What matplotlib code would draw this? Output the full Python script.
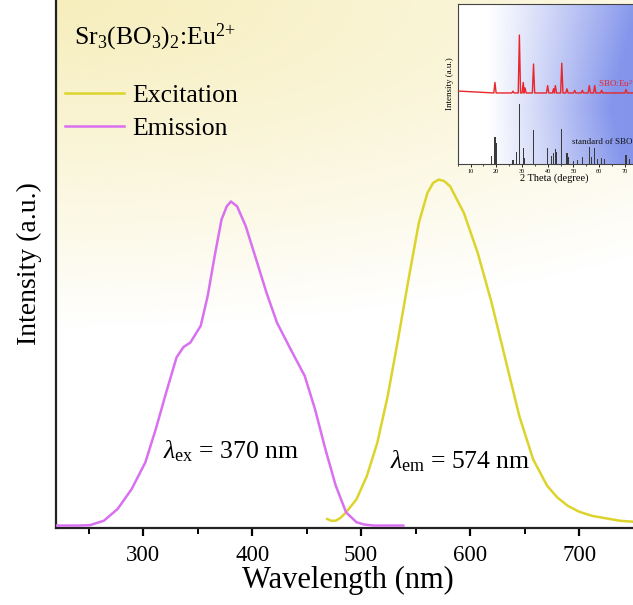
import numpy as np
import matplotlib
matplotlib.use("Agg")
import matplotlib.pyplot as plt
from matplotlib.ticker import MultipleLocator

plt.rcParams['font.family'] = ['Liberation Serif', 'DejaVu Serif']
plt.rcParams['mathtext.fontset'] = 'custom'
plt.rcParams['mathtext.rm'] = 'Liberation Serif'
plt.rcParams['mathtext.it'] = 'Liberation Serif:italic'

# emission band (magenta)
em_wl = [220, 240, 251, 264, 276.6, 289.4, 302, 311.6, 321.1, 330.6, 337, 343.3, 352.8,
         359.2, 365.6, 371.9, 376.7, 380.5, 386.2, 394.1, 403.7, 413.2, 422.8, 435.4,
         448.2, 457.7, 467.2, 476.7, 486.2, 495.8, 503, 511.6, 538.7]
em_int = [0.004, 0.004, 0.005, 0.018, 0.052, 0.109, 0.186, 0.282, 0.387, 0.488, 0.518,
          0.531, 0.579, 0.665, 0.78, 0.885, 0.923, 0.937, 0.923, 0.866, 0.77, 0.674,
          0.588, 0.511, 0.435, 0.339, 0.224, 0.119, 0.042, 0.0135, 0.007, 0.004, 0.004]

# excitation band (yellow)
ex_wl = [468.8, 472.5, 476.7, 481, 486.2, 495.8, 505.3, 514.9, 524.4, 533.9, 543.5, 553,
         560.9, 566, 571.1, 576, 581.6, 594.3, 607, 619.7, 632.4, 645.1, 657.8, 670.6,
         680, 689.6, 700, 711.8, 737.2, 749.4]
ex_int = [0.023, 0.018, 0.018, 0.026, 0.042, 0.08, 0.147, 0.243, 0.377, 0.54, 0.713,
          0.876, 0.962, 0.99, 1.0, 0.996, 0.981, 0.904, 0.789, 0.646, 0.483, 0.32, 0.195,
          0.119, 0.085, 0.061, 0.044, 0.032, 0.018, 0.015]

# XRD inset: measured peaks (red) and standard card (black sticks)
xrd_base = 0.444
xrd_peaks = [19.5, 26.5, 29.0, 30.5, 31.2, 34.5, 40.0, 42.3, 43.0, 45.5, 47.5,
             50.5, 53.5, 56.2, 58.3, 61.0, 70.5]
xrd_heights = [0.51, 0.455, 0.806, 0.51, 0.475, 0.625, 0.49, 0.47, 0.49, 0.63, 0.47,
               0.46, 0.46, 0.49, 0.49, 0.46, 0.465]
std_pos = [18, 19.5, 20, 26.5, 28, 29, 30.5, 31, 34.5, 40, 41.5, 42.3, 43, 43.5, 45.5,
           47.5, 48, 50, 51.5, 53.5, 56.2, 57, 58.3, 59.5, 61, 62, 70.5, 72]
std_int = [0.05, 0.17, 0.13, 0.025, 0.075, 0.375, 0.10, 0.04, 0.21, 0.10, 0.05, 0.07,
           0.095, 0.075, 0.22, 0.07, 0.045, 0.02, 0.025, 0.045, 0.105, 0.045, 0.10,
           0.03, 0.04, 0.03, 0.055, 0.03]

W, H = 633, 605
fig = plt.figure(figsize=(W / 100, H / 100), dpi=100, facecolor='white')

# main axes (right and top edges run off the picture)
x0, xb = 56, 528
ax = fig.add_axes([x0 / W, (H - xb) / H, (639 - x0) / W, xb / H])
ax.set_xlim(220, 755)
ax.set_ylim(-0.003, 1.517)

# yellowish background wash from the top left
ny, nx = 200, 200
yy, xx = np.mgrid[0:1:ny * 1j, 0:1:nx * 1j]
d = np.sqrt(((1 - yy) / 0.62) ** 2 + (xx / 1.6) ** 2)
alpha = np.clip(1 - d, 0, 1) ** 0.9
bg = np.zeros((ny, nx, 4))
bg[..., 0] = 247 / 255
bg[..., 1] = 238 / 255
bg[..., 2] = 188 / 255
bg[..., 3] = alpha
ax.imshow(bg, extent=[0, 1, 0, 1], transform=ax.transAxes, origin='lower',
          aspect='auto', zorder=0, interpolation='bilinear')

ax.plot(ex_wl, ex_int, color='#dcd42c', lw=1.8, label='Excitation', zorder=3,
        solid_joinstyle='round')
ax.plot(em_wl, em_int, color='#d870ef', lw=1.8, label='Emission', zorder=3,
        solid_joinstyle='round')

for s in ['top', 'right']:
    ax.spines[s].set_visible(False)
for s in ['left', 'bottom']:
    ax.spines[s].set_linewidth(1.6)
    ax.spines[s].set_color('#222222')
ax.set_yticks([])
ax.xaxis.set_major_locator(MultipleLocator(100))
ax.xaxis.set_minor_locator(MultipleLocator(50))
ax.tick_params(axis='x', which='major', direction='out', length=6, width=1.6,
               labelsize=16.5, pad=6)
ax.tick_params(axis='x', which='minor', direction='out', length=4, width=1.4)
ax.set_xlabel('Wavelength (nm)', fontsize=22, labelpad=0)
ax.set_ylabel('Intensity (a.u.)', fontsize=20, labelpad=10)

ax.text(236.5, 1.41, r'Sr$_3$(BO$_3$)$_2$:Eu$^{2\!+}$', fontsize=18.5, va='center', ha='left')
ax.text(318.5, 0.219, r'$\lambda_{\mathrm{ex}}$ = 370 nm', fontsize=18.5, va='center', ha='left')
ax.text(526.4, 0.19, r'$\lambda_{\mathrm{em}}$ = 574 nm', fontsize=18.5, va='center', ha='left')

leg = ax.legend(loc='upper left', bbox_to_anchor=(65 / W, 1 - 84 / H),
                bbox_transform=fig.transFigure, frameon=False, fontsize=18.5,
                handlelength=2.3, handletextpad=0.3, labelspacing=0.4,
                borderpad=0, borderaxespad=0)

# XRD inset
ix0, ix_top, ix_bot = 457.7, 4, 164
ins = fig.add_axes([ix0 / W, (H - ix_bot) / H, 192.75 / W, (ix_bot - ix_top) / H])
ins.set_xlim(5, 80)
ins.set_ylim(0, 1)

g_y, g_x = np.mgrid[0:1:100j, 0:1:160j]
ga = np.clip((g_x - 0.15) / 0.75, 0, 1) ** 1.1 * (0.7 + 0.3 * (1 - np.abs(g_y - 0.35)))
gbg = np.zeros((100, 160, 4))
gbg[..., 0] = 110 / 255
gbg[..., 1] = 130 / 255
gbg[..., 2] = 232 / 255
gbg[..., 3] = np.clip(ga, 0, 0.85)
ins.set_facecolor('white')
ins.imshow(gbg, extent=[0, 1, 0, 1], transform=ins.transAxes, origin='lower',
           aspect='auto', zorder=0, interpolation='bilinear')

# red measured pattern as narrow peaks on a flat baseline
rx, ry = [5.0], [xrd_base + 0.012]
for p, h in zip(xrd_peaks, xrd_heights):
    rx += [p - 0.45, p, p + 0.45]
    ry += [xrd_base, h, xrd_base]
rx.append(80)
ry.append(xrd_base)
ins.plot(rx, ry, color='#e8262c', lw=1.0, zorder=3)
ins.bar(std_pos, std_int, width=0.45, color='#3a3a3a', zorder=3)

ins.text(59.6, 0.506, 'SBO:Eu$^{2\\!+}$', color='#e8262c', fontsize=6.5, va='center')
ins.text(49.4, 0.1375, 'standard of SBO', color='#111111', fontsize=6.5, va='center')

for s in ins.spines.values():
    s.set_color('#444444')
    s.set_linewidth(0.8)
ins.set_yticks([])
ins.xaxis.set_major_locator(MultipleLocator(10))
ins.xaxis.set_minor_locator(MultipleLocator(5))
ins.tick_params(axis='x', which='major', direction='out', length=2, width=0.6,
                labelsize=4.5, pad=1.5)
ins.tick_params(axis='x', which='minor', direction='out', length=1.2, width=0.5)
ins.set_xlabel('2 Theta (degree)', fontsize=7.5, labelpad=0)
ins.set_ylabel('Intensity (a.u.)', fontsize=6.5, labelpad=3)

fig.savefig('out.png', dpi=100, facecolor='white')
